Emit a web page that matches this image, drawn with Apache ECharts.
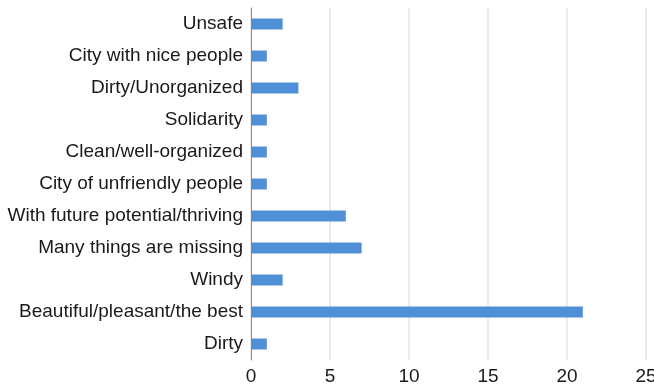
<!DOCTYPE html>
<html>
<head>
<meta charset="utf-8">
<script src="https://cdn.jsdelivr.net/npm/echarts@6/dist/echarts.min.js"></script>
<style>
  html, body { margin: 0; padding: 0; background: #fff; }
  #chart { width: 654px; height: 384px; }
</style>
</head>
<body>
<div id="chart"></div>
<script>
// Categories listed bottom to top (category axis starts at the bottom)
const categories = [
  'Dirty',
  'Beautiful/pleasant/the best',
  'Windy',
  'Many things are missing',
  'With future potential/thriving',
  'City of unfriendly people',
  'Clean/well-organized',
  'Solidarity',
  'Dirty/Unorganized',
  'City with nice people',
  'Unsafe'
];
const counts = [1, 21, 2, 7, 6, 1, 1, 1, 3, 1, 2];
const xTicks = [0, 5, 10, 15, 20, 25];

const labelFont = 'Liberation Sans, Arial, Helvetica, sans-serif';

const chart = echarts.init(document.getElementById('chart'));
chart.setOption({
  animation: false,
  grid: {
    left: 251, right: 8, top: 8, bottom: 24,
    containLabel: false,
    outerBoundsMode: 'none'
  },
  xAxis: {
    type: 'value',
    min: xTicks[0],
    max: xTicks[xTicks.length - 1],
    interval: 5,
    axisLine: { show: false },
    axisTick: { show: false },
    axisLabel: {
      color: '#1a1a1a',
      fontSize: 19,
      fontFamily: labelFont,
      margin: 7
    },
    splitLine: { lineStyle: { color: '#e4e4e4', width: 1.5 } }
  },
  yAxis: {
    type: 'category',
    data: categories,
    axisLine: { show: true, lineStyle: { color: '#8a8a8a', width: 1 } },
    axisTick: { show: false },
    axisLabel: {
      color: '#1a1a1a',
      fontSize: 19,
      fontFamily: labelFont,
      margin: 8
    }
  },
  series: [{
    type: 'bar',
    data: counts,
    barWidth: 11,
    itemStyle: { color: '#4e8fd8' }
  }]
});
</script>
</body>
</html>
